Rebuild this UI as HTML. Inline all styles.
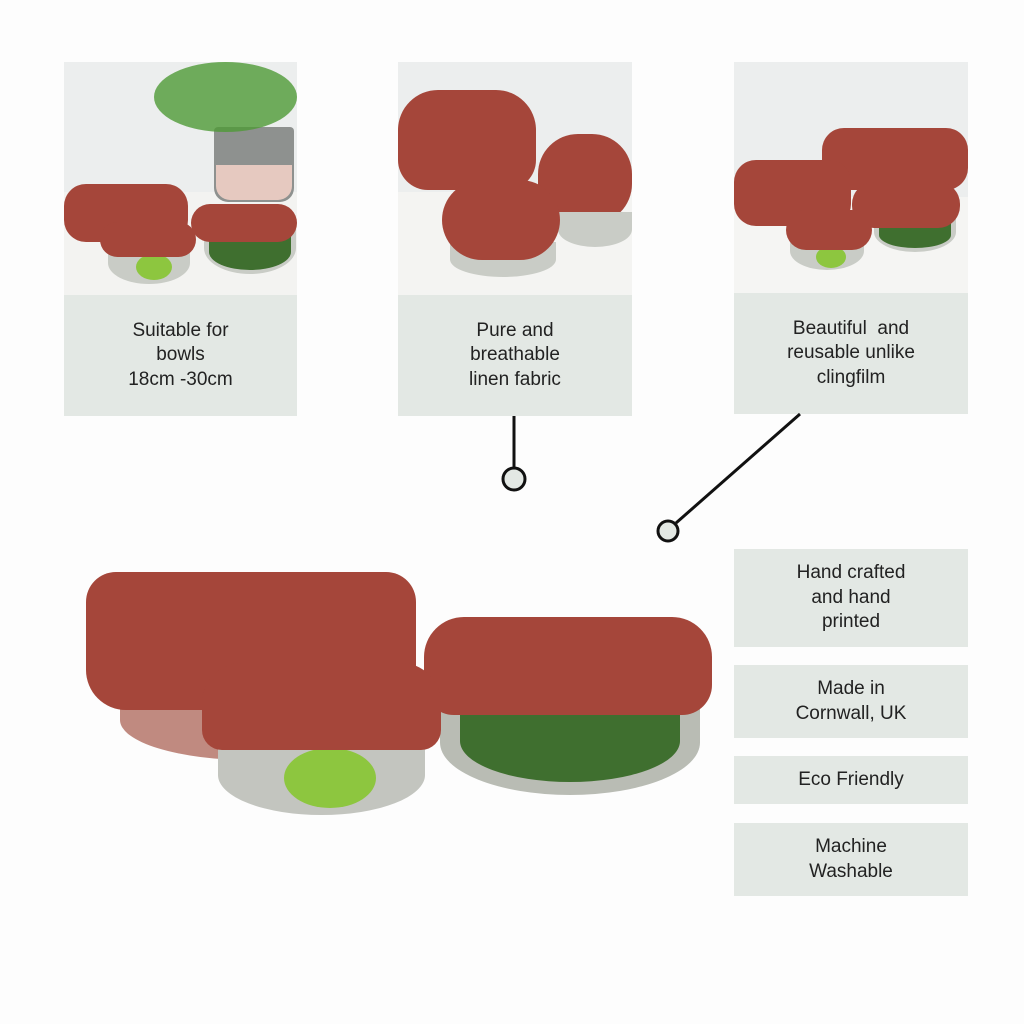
<!DOCTYPE html>
<html><head><style>
body{margin:0;width:1024px;height:1024px;background:#fdfdfd;position:relative;overflow:hidden;font-family:"Liberation Sans",sans-serif;}
.a{position:absolute}
.ph{position:absolute;background:#eceeee;overflow:hidden}
.box{position:absolute;background:#e3e8e4;color:#222;font-size:19px;line-height:24.5px;text-align:center;display:flex;align-items:center;justify-content:center}
.red{position:absolute;background:#a5463a;border-radius:22px}
.gl{position:absolute;background:#c9ccc6;border-radius:0 0 50% 50%}
.lime{position:absolute;background:#8dc63f;border-radius:50%}
.grn{position:absolute;background:#3f6f2f;border-radius:0 0 50% 50%}
</style></head><body>
<!-- photo 1 -->
<div class="ph" style="left:64px;top:62px;width:233px;height:233px">
<div class="a" style="left:0;top:130px;width:233px;height:103px;background:#f3f3f1"></div>
<div class="a" style="left:150px;top:65px;width:80px;height:75px;background:#8e918f;border-radius:4px 4px 14px 14px"></div>
<div class="a" style="left:152px;top:103px;width:76px;height:35px;background:#e6c9c0;border-radius:0 0 14px 14px"></div>
<div class="a" style="left:90px;top:0;width:143px;height:70px;background:#4f9a36;border-radius:50%;opacity:.8"></div>
<div class="red" style="left:0;top:122px;width:124px;height:58px"></div>
<div class="gl" style="left:140px;top:160px;width:92px;height:52px"></div>
<div class="grn" style="left:145px;top:172px;width:82px;height:36px"></div>
<div class="red" style="left:127px;top:142px;width:106px;height:38px"></div>
<div class="gl" style="left:44px;top:180px;width:82px;height:42px"></div>
<div class="lime" style="left:72px;top:192px;width:36px;height:26px"></div>
<div class="red" style="left:36px;top:160px;width:96px;height:35px"></div>
</div>
<div class="box" style="left:64px;top:295px;width:233px;height:121px">Suitable for<br>bowls<br>18cm -30cm</div>
<!-- photo 2 -->
<div class="ph" style="left:398px;top:62px;width:234px;height:233px">
<div class="a" style="left:0;top:130px;width:234px;height:103px;background:#f4f4f2"></div>
<div class="red" style="left:0;top:28px;width:138px;height:100px;border-radius:40px 40px 30px 30px"></div>
<div class="red" style="left:140px;top:72px;width:94px;height:90px;border-radius:40px"></div>
<div class="gl" style="left:160px;top:150px;width:74px;height:35px"></div>
<div class="gl" style="left:52px;top:180px;width:106px;height:35px"></div>
<div class="red" style="left:44px;top:118px;width:118px;height:80px;border-radius:40px"></div>
</div>
<div class="box" style="left:398px;top:295px;width:234px;height:121px">Pure and<br>breathable<br>linen fabric</div>
<!-- photo 3 -->
<div class="ph" style="left:734px;top:62px;width:234px;height:231px">
<div class="a" style="left:0;top:135px;width:234px;height:96px;background:#f5f5f3"></div>
<div class="red" style="left:88px;top:66px;width:146px;height:62px"></div>
<div class="red" style="left:0;top:98px;width:117px;height:66px"></div>
<div class="gl" style="left:140px;top:150px;width:82px;height:40px"></div>
<div class="grn" style="left:145px;top:160px;width:72px;height:26px"></div>
<div class="red" style="left:118px;top:120px;width:108px;height:46px"></div>
<div class="gl" style="left:56px;top:170px;width:74px;height:38px"></div>
<div class="lime" style="left:82px;top:184px;width:30px;height:22px"></div>
<div class="red" style="left:52px;top:148px;width:86px;height:40px"></div>
</div>
<div class="box" style="left:734px;top:293px;width:234px;height:121px">Beautiful&nbsp; and<br>reusable unlike<br>clingfilm</div>
<!-- connectors -->
<svg class="a" style="left:0;top:0" width="1024" height="1024">
<line x1="514" y1="416" x2="514" y2="468" stroke="#111" stroke-width="3"/>
<circle cx="514" cy="479" r="11" fill="#e3e8e4" stroke="#111" stroke-width="3"/>
<line x1="800" y1="414" x2="676" y2="523" stroke="#111" stroke-width="3"/>
<circle cx="668" cy="531" r="10" fill="#e3e8e4" stroke="#111" stroke-width="3"/>
</svg>
<!-- right boxes -->
<div class="box" style="left:734px;top:549px;width:234px;height:98px">Hand crafted<br>and hand<br>printed</div>
<div class="box" style="left:734px;top:665px;width:234px;height:73px">Made in<br>Cornwall, UK</div>
<div class="box" style="left:734px;top:756px;width:234px;height:48px">Eco Friendly</div>
<div class="box" style="left:734px;top:823px;width:234px;height:73px">Machine<br>Washable</div>
<!-- main bowls -->
<div class="gl" style="left:120px;top:680px;width:260px;height:80px;background:#c08a80"></div>
<div class="red" style="left:86px;top:572px;width:330px;height:138px;border-radius:30px 30px 40px 40px"></div>
<div class="gl" style="left:440px;top:690px;width:260px;height:105px;background:#b9bcb4"></div>
<div class="grn" style="left:460px;top:700px;width:220px;height:82px"></div>
<div class="red" style="left:424px;top:617px;width:288px;height:98px;border-radius:40px 40px 30px 30px"></div>
<div class="gl" style="left:218px;top:735px;width:207px;height:80px;background:#c3c5bf"></div>
<div class="lime" style="left:284px;top:748px;width:92px;height:60px"></div>
<div class="red" style="left:202px;top:663px;width:239px;height:87px;border-radius:40px 40px 20px 20px"></div>
</body></html>
